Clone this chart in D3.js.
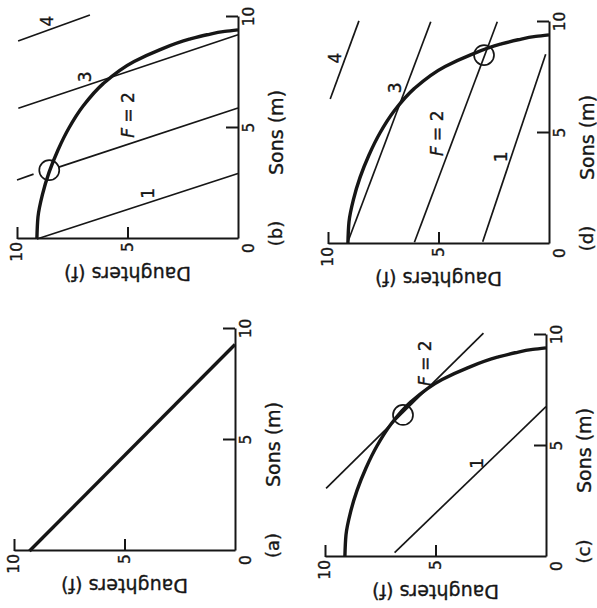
<!DOCTYPE html>
<html>
<head>
<meta charset="utf-8">
<script src="https://cdn.jsdelivr.net/npm/d3@7"></script>
<style>
  html, body { margin: 0; padding: 0; background: #fff; }
  svg { display: block; }
  text { font-family: "DejaVu Sans", "Liberation Sans", Arial, sans-serif; fill: #161616; stroke: #161616; stroke-width: 0.35px; }
</style>
</head>
<body>
<div id="chart"></div>
<script>
// Four panels (a)-(d): sons vs daughters trade-off with fitness isoclines.
// The scan is turned a quarter turn, so the whole drawing is rotated -90deg.

const panelIds = ['a', 'b', 'c', 'd'];
const axisTicks = [5, 10];

// convex trade-off curve (panels b, c, d)
const curveSons      = [0,   1,    2,    3,    4,    5,    6,   7,   8,   8.5, 9,   9.2, 9.35, 9.42];
const curveDaughters = [9.1, 9.05, 8.85, 8.55, 8.15, 7.65, 7.0, 6.1, 4.7, 3.6, 2.2, 1.4, 0.6,  0];

// linear trade-off (panel a)
const lineSons      = [0,   9.3];
const lineDaughters = [9.3, 0];

// fitness isoclines, each segment [[m, f], [m, f]]
const isoB = [
  [[0, 9.1], [2.95, 0]],
  [[5.9, 0], [3.24, 8.11]],
  [[2.92, 9.25], [2.66, 10.0]],
  [[9.2, 0], [5.89, 9.94]],
  [[8.92, 9.95], [10.09, 6.7]]
];
const isoC = [
  [[0.2, 6.85], [6.77, 0]],
  [[3.09, 9.95], [10.08, 2.83]]
];
const isoD = [
  [[0.1, 3.0], [8.55, 0.15]],
  [[0.08, 6.09], [10.01, 2.34]],
  [[0.1, 9.1], [10.01, 5.35]],
  [[6.53, 9.9], [10.05, 8.6]]
];

// optimum markers [m, f]
const optimumB = [[3.1, 8.54]];
const optimumC = [[6.4, 6.47]];
const optimumD = [[8.51, 2.94]];

// isocline labels
const labelsB = [
  { text: '1', m: 2.06, f: 4.05 },
  { text: '2', m: 5.59, f: 4.96, italicF: true },
  { text: '3', m: 7.31, f: 6.92 },
  { text: '4', m: 9.82, f: 8.64 }
];
const labelsC = [
  { text: '1', m: 4.22, f: 3.1 },
  { text: '2', m: 8.73, f: 5.49, italicF: true }
];
const labelsD = [
  { text: '1', m: 3.93, f: 2.19 },
  { text: '2', m: 4.99, f: 5.05, italicF: true },
  { text: '3', m: 7.03, f: 6.98 },
  { text: '4', m: 8.38, f: 9.68 }
];

// layout (in the unrotated frame: u to the right, v downward)
const W = 597, H = 608;
const SPAN_U = 222, SPAN_V = 221;
const ORIGINS = {
  a: [57, 235],
  b: [369, 238],
  c: [51, 546],
  d: [364, 549]
};

const PANELS = {
  a: { curve: null, iso: [], opt: [], labels: [] },
  b: { curve: true, iso: isoB, opt: optimumB, labels: labelsB },
  c: { curve: true, iso: isoC, opt: optimumC, labels: labelsC },
  d: { curve: true, iso: isoD, opt: optimumD, labels: labelsD }
};

const svg = d3.select('#chart').append('svg')
  .attr('width', W)
  .attr('height', H);

const root = svg.append('g')
  .attr('transform', `translate(0,${H}) rotate(-90)`);

const curvePts = curveSons.map((m, i) => [m, curveDaughters[i]]);
const linePts = lineSons.map((m, i) => [m, lineDaughters[i]]);

panelIds.forEach(id => {
  const [u0, v0] = ORIGINS[id];
  const cfg = PANELS[id];
  const x = d3.scaleLinear().domain([0, 10]).range([u0, u0 + SPAN_U]);
  const y = d3.scaleLinear().domain([0, 10]).range([v0, v0 - SPAN_V]);
  const g = root.append('g').attr('class', 'panel-' + id);

  // axes, ticks pointing inward
  const xAxis = g.append('g')
    .attr('transform', `translate(0,${v0})`)
    .call(d3.axisBottom(x).tickValues(axisTicks).tickSizeInner(-12).tickSizeOuter(0).tickPadding(5));
  const yAxis = g.append('g')
    .attr('transform', `translate(${u0},0)`)
    .call(d3.axisLeft(y).tickValues(axisTicks).tickSizeInner(-12).tickSizeOuter(0).tickPadding(3));

  [xAxis, yAxis].forEach(a => {
    a.attr('font-family', null).attr('font-size', 15.5);
    a.select('.domain').attr('stroke', '#161616').attr('stroke-width', 2);
    a.selectAll('.tick line').attr('stroke', '#161616').attr('stroke-width', 2);
    a.selectAll('.tick text').attr('fill', '#161616');
  });

  g.append('text')
    .attr('x', x(0) - 9)
    .attr('y', y(0) + 11)
    .attr('text-anchor', 'middle')
    .attr('dominant-baseline', 'central')
    .attr('font-size', 15.5)
    .text('0');

  // axis titles and panel letter
  g.append('text')
    .attr('x', x(4.8))
    .attr('y', v0 + 38)
    .attr('text-anchor', 'middle')
    .attr('dominant-baseline', 'central')
    .attr('font-size', 19)
    .text('Sons (m)');

  g.append('text')
    .attr('transform', `translate(${u0 - 35},${y(5)}) rotate(-90)`)
    .attr('text-anchor', 'middle')
    .attr('dominant-baseline', 'central')
    .attr('font-size', 19)
    .text('Daughters (f)');

  g.append('text')
    .attr('x', x(0.25))
    .attr('y', v0 + 37)
    .attr('text-anchor', 'middle')
    .attr('dominant-baseline', 'central')
    .attr('font-size', 18)
    .text('(' + id + ')');

  const line = d3.line().x(d => x(d[0])).y(d => y(d[1]));

  // isoclines
  g.selectAll('path.iso')
    .data(cfg.iso)
    .enter()
    .append('path')
    .attr('class', 'iso')
    .attr('d', line)
    .attr('fill', 'none')
    .attr('stroke', '#161616')
    .attr('stroke-width', 1.7);

  // trade-off
  if (cfg.curve) {
    g.append('path')
      .attr('d', line.curve(d3.curveMonotoneX)(curvePts))
      .attr('fill', 'none')
      .attr('stroke', '#161616')
      .attr('stroke-width', 3.4);
  } else {
    g.append('path')
      .attr('d', line(linePts))
      .attr('fill', 'none')
      .attr('stroke', '#161616')
      .attr('stroke-width', 3.4);
  }

  g.selectAll('circle.opt')
    .data(cfg.opt)
    .enter()
    .append('circle')
    .attr('class', 'opt')
    .attr('cx', d => x(d[0]))
    .attr('cy', d => y(d[1]))
    .attr('r', 10)
    .attr('fill', 'none')
    .attr('stroke', '#161616')
    .attr('stroke-width', 1.7);

  const lab = g.selectAll('text.iso-label')
    .data(cfg.labels)
    .enter()
    .append('text')
    .attr('class', 'iso-label')
    .attr('x', d => x(d.m))
    .attr('y', d => y(d.f))
    .attr('text-anchor', 'middle')
    .attr('dominant-baseline', 'central')
    .attr('font-size', 17);

  lab.each(function(d) {
    const t = d3.select(this);
    if (d.italicF) {
      t.append('tspan').attr('font-style', 'italic').text('F');
      t.append('tspan').text(' = ' + d.text);
    } else {
      t.text(d.text);
    }
  });
});
</script>
</body>
</html>
